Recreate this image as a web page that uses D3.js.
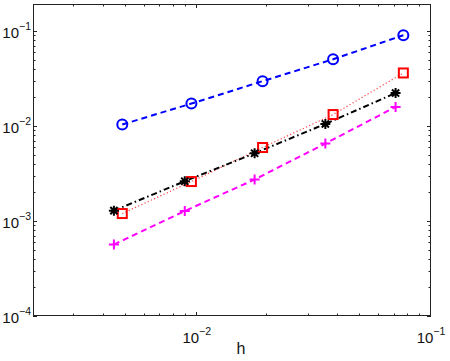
<!DOCTYPE html>
<html>
<head>
<meta charset="utf-8">
<script src="https://cdn.jsdelivr.net/npm/d3@7"></script>
<style>
  body { margin: 0; background: white; }
  text { font-family: "Liberation Sans", Arial, sans-serif; }
</style>
</head>
<body>
<div id="viz-container"></div>
<script>
// h values (two sets of grid sizes)
let hA = [0.00481, 0.00949, 0.0191, 0.0382, 0.0762];
let hB = [0.00443, 0.00889, 0.01766, 0.0354, 0.0706];

// errors per series
let errBlue = [0.01036, 0.0172, 0.0296, 0.0503, 0.0901];
let errRed = [0.001197, 0.0026, 0.00593, 0.01318, 0.0361];
let errBlack = [0.001285, 0.00262, 0.00516, 0.0105, 0.0222];
let errMagenta = [0.000565, 0.001274, 0.00273, 0.00653, 0.01585];

let xTickExp = [-2, -1];
let yTickExp = [-4, -3, -2, -1];

let W = 450, H = 361;
let padL = 33, padR = 431, padT = 4, padB = 316;

let viz = d3.select("#viz-container")
    .append("svg")
    .attr("width", W)
    .attr("height", H)
    .style("background-color", "white");

let x = d3.scaleLog().domain([0.002, 0.1]).range([padL, padR]);
let y = d3.scaleLog().domain([1e-4, 0.192]).range([padB, padT]);

// box
viz.append("rect")
    .attr("x", padL + 0.5).attr("y", padT + 0.5)
    .attr("width", padR - padL - 1).attr("height", padB - padT - 1)
    .attr("fill", "none").attr("stroke", "#222").attr("stroke-width", 1);

// ticks (inward, on all four sides)
let xMinor = [], yMinor = [];
for (let e = -3; e <= -1; e++) {
    for (let k = 2; k <= 9; k++) {
        let v = k * Math.pow(10, e);
        if (v > 0.002 && v < 0.1) xMinor.push(v);
    }
}
for (let e = -4; e <= -1; e++) {
    for (let k = 2; k <= 9; k++) {
        let v = k * Math.pow(10, e);
        if (v < 0.192) yMinor.push(v);
    }
}
let xMajor = xTickExp.map(e => Math.pow(10, e));
let yMajor = yTickExp.map(e => Math.pow(10, e));

function xTicks(vals, len) {
    vals.forEach(v => {
        let px = Math.round(x(v)) - 0.5;
        viz.append("line").attr("x1", px).attr("x2", px)
            .attr("y1", padB).attr("y2", padB - len)
            .attr("stroke", "#222").attr("stroke-width", 1);
        viz.append("line").attr("x1", px).attr("x2", px)
            .attr("y1", padT).attr("y2", padT + len)
            .attr("stroke", "#222").attr("stroke-width", 1);
    });
}
function yTicks(vals, len) {
    vals.forEach(v => {
        let py = Math.round(y(v)) + 0.5;
        viz.append("line").attr("x1", padL).attr("x2", padL + len)
            .attr("y1", py).attr("y2", py)
            .attr("stroke", "#222").attr("stroke-width", 1);
        viz.append("line").attr("x1", padR).attr("x2", padR - len)
            .attr("y1", py).attr("y2", py)
            .attr("stroke", "#222").attr("stroke-width", 1);
    });
}
xTicks(xMajor, 4);
xTicks(xMinor, 2.5);
yTicks(yMajor, 4);
yTicks(yMinor, 2.5);

// tick labels 10^e
function powLabel(px, py, e, anchor) {
    let t = viz.append("text")
        .attr("x", px).attr("y", py)
        .attr("text-anchor", anchor)
        .attr("font-size", "15px")
        .attr("fill", "#111");
    t.append("tspan").text("10");
    t.append("tspan").attr("dy", -8).attr("font-size", "10.5px").text("\u2212" + (-e));
}
xTickExp.forEach(e => powLabel(x(Math.pow(10, e)), 343, e, "middle"));
yTickExp.forEach(e => powLabel(31, y(Math.pow(10, e)) + 7, e, "end"));

viz.append("text")
    .attr("x", 241).attr("y", 354)
    .attr("text-anchor", "middle")
    .attr("font-size", "16px")
    .attr("fill", "#111")
    .text("h");

// series
let line = d3.line().x(d => x(d[0])).y(d => y(d[1]));

function drawLine(hs, errs, color, dash, width) {
    viz.append("path")
        .datum(d3.zip(hs, errs))
        .attr("d", line)
        .attr("fill", "none")
        .attr("stroke", color)
        .attr("stroke-width", width)
        .attr("stroke-dasharray", dash);
}

drawLine(hA, errBlue, "#0000ff", "6,4", 2);
drawLine(hA, errRed, "#ff4040", "1.2,2.3", 1.2);
drawLine(hB, errBlack, "#000", "6,3,1.5,3", 2);
drawLine(hB, errMagenta, "#ff00ff", "6,4", 2);

// markers
viz.selectAll(".circ").data(d3.zip(hA, errBlue)).enter().append("circle")
    .attr("class", "circ")
    .attr("cx", d => x(d[0])).attr("cy", d => y(d[1]))
    .attr("r", 5)
    .attr("fill", "none").attr("stroke", "#0000ff").attr("stroke-width", 2);

viz.selectAll(".sq").data(d3.zip(hA, errRed)).enter().append("rect")
    .attr("class", "sq")
    .attr("x", d => x(d[0]) - 4.5).attr("y", d => y(d[1]) - 4.5)
    .attr("width", 9).attr("height", 9)
    .attr("fill", "none").attr("stroke", "#ff0000").attr("stroke-width", 2);

let starPath = "M-5,0L5,0M0,-5L0,5M-3.6,-3.6L3.6,3.6M-3.6,3.6L3.6,-3.6";
viz.selectAll(".star").data(d3.zip(hB, errBlack)).enter().append("path")
    .attr("class", "star")
    .attr("d", starPath)
    .attr("transform", d => "translate(" + x(d[0]) + "," + y(d[1]) + ")")
    .attr("stroke", "#000").attr("stroke-width", 2).attr("fill", "none");

let plusPath = "M-5,0L5,0M0,-5L0,5";
viz.selectAll(".plus").data(d3.zip(hB, errMagenta)).enter().append("path")
    .attr("class", "plus")
    .attr("d", plusPath)
    .attr("transform", d => "translate(" + x(d[0]) + "," + y(d[1]) + ")")
    .attr("stroke", "#ff00ff").attr("stroke-width", 2).attr("fill", "none");
</script>
</body>
</html>
